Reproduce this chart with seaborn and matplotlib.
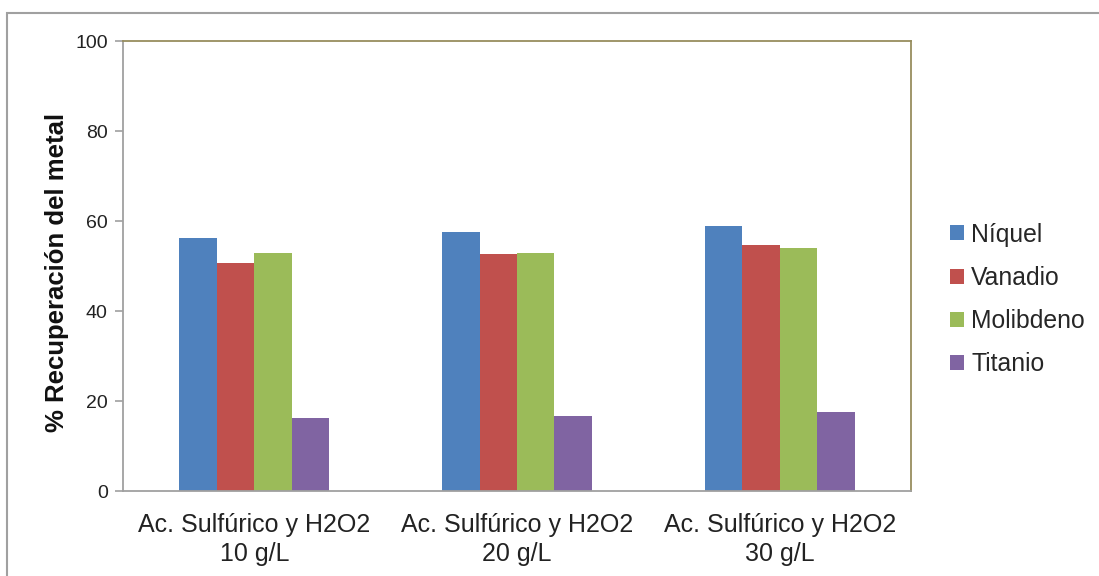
import matplotlib
matplotlib.use("Agg")
import matplotlib.pyplot as plt
import seaborn as sns
import pandas as pd
from matplotlib.patches import Rectangle

categories = ["Ac. Sulfúrico y H2O2\n10 g/L", "Ac. Sulfúrico y H2O2\n20 g/L", "Ac. Sulfúrico y H2O2\n30 g/L"]
series = ["Níquel", "Vanadio", "Molibdeno", "Titanio"]
niquel = [56.3, 57.5, 58.9]
vanadio = [50.6, 52.7, 54.6]
molibdeno = [52.8, 53.0, 54.1]
titanio = [16.2, 16.7, 17.6]
yticks = [0, 20, 40, 60, 80, 100]
colors = ["#4F81BD", "#C0504D", "#9BBB59", "#8064A2"]

rows = []
for name, vals in zip(series, [niquel, vanadio, molibdeno, titanio]):
    for c, v in zip(categories, vals):
        rows.append({"cat": c, "metal": name, "val": v})
df = pd.DataFrame(rows)

sns.set_style("white")
plt.rcParams["font.family"] = ["Liberation Sans", "DejaVu Sans"]

fig = plt.figure(figsize=(10.99, 5.76), dpi=100)
ax = fig.add_axes([123/1099, 1-491/576, (911-123)/1099, (491-41)/576])

sns.barplot(data=df, x="cat", y="val", hue="metal", hue_order=series,
            palette=colors, width=0.57, saturation=1, linewidth=0, ax=ax, errorbar=None)

ax.set_ylim(0, 100)
ax.set_yticks(yticks)
ax.set_yticklabels([str(t) for t in yticks], fontsize=14, color="#222222")
ax.tick_params(axis="y", length=6, width=1.2, color="#A0A0A0", left=True, pad=5)
ax.tick_params(axis="x", length=0, labelsize=18, labelcolor="#222222", pad=16)
for lab in ax.get_xticklabels():
    lab.set_linespacing(1.26)
ax.set_xlabel("")
ax.set_ylabel("% Recuperación del metal", fontsize=18.5, fontweight="bold", color="#111111")
ax.yaxis.set_label_coords(-0.069, 0.4856)

for s in ["left", "bottom"]:
    ax.spines[s].set_color("#A0A0A0")
    ax.spines[s].set_linewidth(1.3)
for s in ["top", "right"]:
    ax.spines[s].set_color("#978D5E")
    ax.spines[s].set_linewidth(1.3)
    ax.spines[s].set_visible(True)

handles, labels = ax.get_legend_handles_labels()
ax.legend(handles, labels, loc="center left", bbox_to_anchor=(950/1099, 1-299.5/576),
          bbox_transform=fig.transFigure, frameon=False, fontsize=17.8,
          handlelength=0.55, handleheight=0.55, handletextpad=0.3, labelspacing=0.78,
          borderaxespad=0, borderpad=0)

fig.patches.append(Rectangle((7/1099, -0.05), 1.1, 1.05 - 13/576, transform=fig.transFigure,
                             fill=False, edgecolor="#A0A0A0", linewidth=1.5))

fig.savefig("out.png", dpi=100)
